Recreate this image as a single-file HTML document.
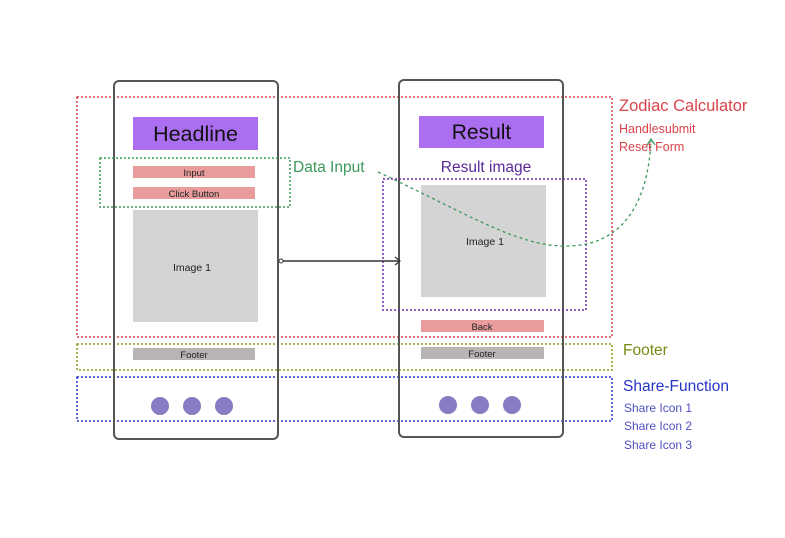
<!DOCTYPE html>
<html><head><style>body{margin:0;background:#fff}</style></head><body>
<svg width="785" height="533" viewBox="0 0 785 533" xmlns="http://www.w3.org/2000/svg" font-family="Liberation Sans, sans-serif">
<rect width="785" height="533" fill="#fff"/>
<rect x="77" y="97" width="535" height="240" fill="none" stroke="#d9434a" stroke-width="1.5" stroke-dasharray="2 2"/>
<rect x="77" y="344" width="535" height="26" fill="none" stroke="#8a9a1a" stroke-width="1.5" stroke-dasharray="2 2"/>
<rect x="77" y="377" width="535" height="44" fill="none" stroke="#2535d6" stroke-width="1.5" stroke-dasharray="2 2"/>
<rect x="114" y="81" width="164" height="358" rx="5" fill="none" stroke="#555" stroke-width="2"/>
<rect x="399" y="80" width="164" height="357" rx="5" fill="none" stroke="#555" stroke-width="2"/>
<rect x="133" y="117" width="125" height="33" fill="#ac6ef0"/>
<text x="195.5" y="141" font-size="21.5" text-anchor="middle" fill="#111">Headline</text>
<rect x="133" y="166" width="122" height="12" fill="#e99c9c"/>
<text x="194" y="176" font-size="9.5" text-anchor="middle" fill="#222">Input</text>
<rect x="133" y="187" width="122" height="12" fill="#e99c9c"/>
<text x="194" y="197" font-size="9.5" text-anchor="middle" fill="#222">Click Button</text>
<rect x="100" y="158" width="190" height="49" fill="none" stroke="#3a9a5a" stroke-width="1.5" stroke-dasharray="2 2"/>
<text x="293" y="172" font-size="15.5" fill="#3a9a5a">Data Input</text>
<rect x="133" y="210" width="125" height="112" fill="#d4d4d4"/>
<text x="192" y="271" font-size="10.5" text-anchor="middle" fill="#222">Image 1</text>
<rect x="133" y="348" width="122" height="12" fill="#b8b4b4"/>
<text x="194" y="358" font-size="9.5" text-anchor="middle" fill="#222">Footer</text>
<g fill="#8a7cc4"><circle cx="160" cy="406" r="9"/><circle cx="192" cy="406" r="9"/><circle cx="224" cy="406" r="9"/>
<circle cx="448" cy="405" r="9"/><circle cx="480" cy="405" r="9"/><circle cx="512" cy="405" r="9"/></g>
<rect x="419" y="116" width="125" height="32" fill="#ac6ef0"/>
<text x="481.5" y="139" font-size="21" text-anchor="middle" fill="#111">Result</text>
<text x="486" y="172" font-size="15.5" text-anchor="middle" fill="#5a2a9a">Result image</text>
<rect x="421" y="185" width="125" height="112" fill="#d4d4d4"/>
<rect x="383" y="179" width="203" height="131" fill="none" stroke="#6a2ab0" stroke-width="1.5" stroke-dasharray="2 2"/>
<text x="485" y="245" font-size="10.5" text-anchor="middle" fill="#222">Image 1</text>
<rect x="421" y="320" width="123" height="12" fill="#e99c9c"/>
<text x="482" y="330" font-size="9.5" text-anchor="middle" fill="#222">Back</text>
<rect x="421" y="347" width="123" height="12" fill="#b8b4b4"/>
<text x="482" y="357" font-size="9.5" text-anchor="middle" fill="#222">Footer</text>
<line x1="282" y1="261" x2="400" y2="261" stroke="#333" stroke-width="1.5"/>
<circle cx="281" cy="261" r="2" fill="#fff" stroke="#333"/>
<path d="M395 257 L400 261 L395 265" fill="none" stroke="#333" stroke-width="1.2"/>
<path d="M378 172 C470 215 520 248 570 246 C625 244 648 200 651 141" fill="none" stroke="#3a9a5a" stroke-width="1.3" stroke-dasharray="3 3"/>
<path d="M647 145 L651 139 L655 145" fill="none" stroke="#3a9a5a" stroke-width="1.2"/>
<text x="619" y="111" font-size="16.5" fill="#d9434a">Zodiac Calculator</text>
<text x="619" y="133" font-size="12.5" fill="#d9434a">Handlesubmit</text>
<text x="619" y="151" font-size="12.5" fill="#d9434a">Reset Form</text>
<text x="623" y="355" font-size="15.5" fill="#7a8a10">Footer</text>
<text x="623" y="391" font-size="15.5" fill="#2535c6">Share-Function</text>
<text x="624" y="412" font-size="12" fill="#5050c0">Share Icon 1</text>
<text x="624" y="430" font-size="12" fill="#5050c0">Share Icon 2</text>
<text x="624" y="449" font-size="12" fill="#5050c0">Share Icon 3</text>
</svg>
</body></html>
